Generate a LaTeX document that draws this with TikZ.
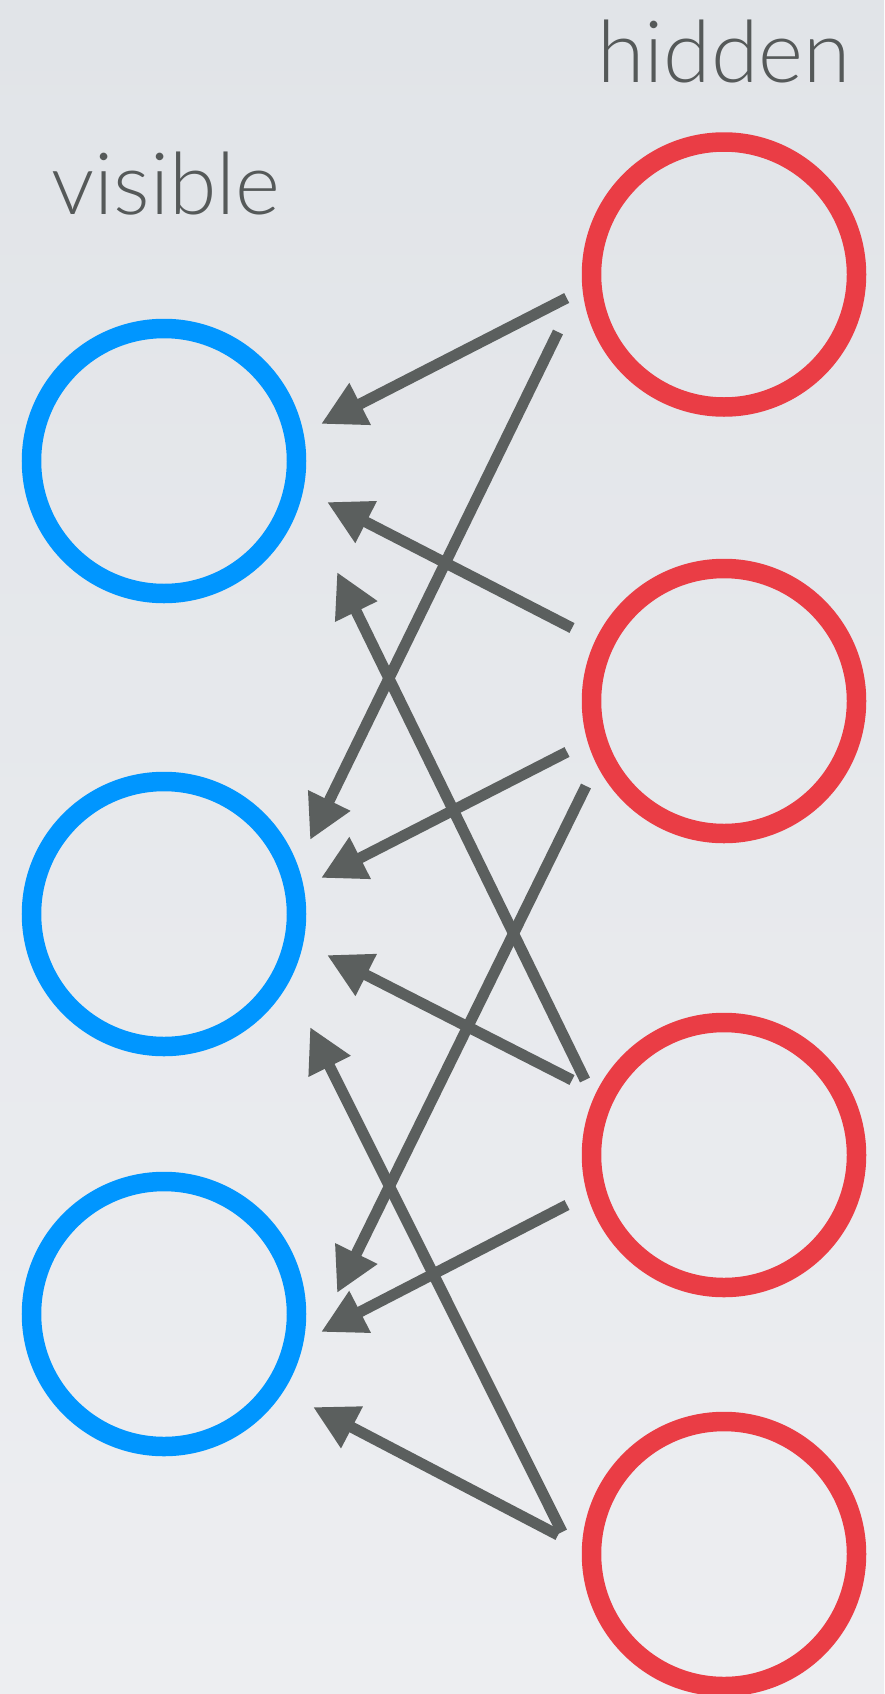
\documentclass[tikz,border=0pt]{standalone}
\usepackage{fontspec}
\usetikzlibrary{arrows.meta}
\newfontfamily\lblfont{Lato Light}
\definecolor{bgtop}{HTML}{E1E4E8}
\definecolor{bgbot}{HTML}{EDEEF1}
\definecolor{visblue}{HTML}{0096FF}
\definecolor{hidred}{HTML}{EA3D45}
\definecolor{arrgray}{HTML}{5B5F5E}
\definecolor{txtgray}{HTML}{555959}
\tikzset{
  unit/.style={circle, inner sep=0pt, minimum size=265pt, line width=19.5pt},
  visunit/.style={unit, draw=visblue},
  hidunit/.style={unit, draw=hidred},
  arr/.style={draw=arrgray, line width=11pt, -{Triangle[length=44pt,width=44pt]}},
  lbl/.style={anchor=base west, inner sep=0pt, text=txtgray, font=\lblfont\fontsize{86}{90}\selectfont}
}
\begin{document}
\begin{tikzpicture}[x=1pt,y=-1pt]
\shade[top color=bgtop, bottom color=bgbot] (0,0) rectangle (884,1694);
\useasboundingbox (0,0) rectangle (884,1694);
\node[lbl] (vislbl) at (51,214) {visible};
\node[lbl] (hidlbl) at (597,82) {hidden};
\node[visunit] (v1) at (164,461) {};
\node[visunit] (v2) at (164,914) {};
\node[visunit] (v3) at (164,1314) {};
\node[hidunit] (h1) at (724,274.5) {};
\node[hidunit] (h2) at (724,701) {};
\node[hidunit] (h3) at (724,1155) {};
\node[hidunit] (h4) at (724,1554) {};
% arrow end points
\coordinate (s1) at (566.7,298); \coordinate (t1) at (321,424);
\coordinate (s2) at (558,332);   \coordinate (t2) at (310,840);
\coordinate (s3) at (572,628);   \coordinate (t3) at (327,502);
\coordinate (s4) at (567,752);   \coordinate (t4) at (321,878);
\coordinate (s5) at (586,786);   \coordinate (t5) at (337,1293);
\coordinate (s6) at (585,1080);  \coordinate (t6) at (337,572);
\coordinate (s7) at (572,1080);  \coordinate (t7) at (327,955);
\coordinate (s8) at (567,1205);  \coordinate (t8) at (321,1332);
\coordinate (s9) at (562,1532);  \coordinate (t9) at (310,1027);
\coordinate (s10) at (558,1535); \coordinate (t10) at (313,1407);
\foreach \i in {1,...,10} { \draw[arr] (s\i) -- (t\i); }
\end{tikzpicture}
\end{document}
